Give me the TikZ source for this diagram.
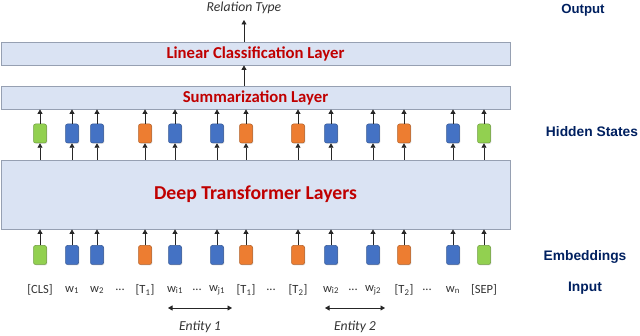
\documentclass[tikz,border=0pt]{standalone}
\usepackage{fontspec}
\setmainfont{Carlito}
\newfontfamily\sidefont{Liberation Sans}
\usetikzlibrary{arrows.meta,positioning,shadows}
\definecolor{layerfill}{RGB}{218,227,243}
\definecolor{layerdraw}{RGB}{150,160,178}
\definecolor{layerred}{RGB}{192,0,0}
\definecolor{sidenavy}{RGB}{0,32,96}
\definecolor{tokblue}{RGB}{68,114,196}
\definecolor{tokorange}{RGB}{237,125,49}
\definecolor{tokgreen}{RGB}{146,208,80}
\begin{document}
\begin{tikzpicture}[x=1pt,y=-1pt,
  layer/.style={draw=layerdraw,fill=layerfill,line width=0.8pt,minimum width=509pt,inner sep=0pt,
    text=layerred,font=\fontsize{16.7}{18}\selectfont\bfseries,
    drop shadow={shadow xshift=1.2pt,shadow yshift=-1.2pt,fill=black!30}},
  tok/.style={rounded corners=2pt,draw=#1!75!black,fill=#1,line width=0.5pt,minimum width=13pt,minimum height=19pt,inner sep=0pt,
    drop shadow={shadow xshift=0.8pt,shadow yshift=-0.8pt,fill=black!25}},
  tokin/.style={font=\fontsize{12.5}{14}\selectfont,text=black!80,inner sep=1pt},
  side/.style={font=\sidefont\fontsize{13.8}{16}\selectfont\bfseries,text=sidenavy},
  note/.style={font=\fontsize{13.7}{15}\selectfont\itshape,text=black!80},
  arr/.style={-{Triangle[length=4.5pt,width=5pt]},line width=0.7pt,black!85},
  twoarr/.style={{Triangle[length=4.5pt,width=5pt]}-{Triangle[length=4.5pt,width=5pt]},line width=0.7pt,black!85}]
\useasboundingbox (0,0) rectangle (640,336);
% the three layers
\node[layer,minimum height=23pt] (lin) at (255.5,53.5) {Linear Classification Layer};
\node[layer,minimum height=23pt] (summ) at (255.5,97.5) {Summarization Layer};
\node[layer,minimum height=69pt,font=\fontsize{19.7}{22}\selectfont\bfseries] (trans) at (255.5,194.5) {Deep Transformer Layers};
% output
\node[note] (rel) at (244,7.5) {Relation Type};
\coordinate (reltip) at (244,20);
\draw[arr] (lin.north -| reltip) -- (reltip);
\draw[arr] (summ.north -| reltip) -- (lin.south -| reltip);
% tokens: embeddings, hidden states and input words
\foreach \i/\x/\c/\t in {1/40/tokgreen/{[CLS]},2/72/tokblue/{w\textsubscript{1}},3/97/tokblue/{w\textsubscript{2}},
    4/145/tokorange/{[T\textsubscript{1}]},5/175/tokblue/{w\textsubscript{i1}},6/217/tokblue/{w\textsubscript{j1}},
    7/246/tokorange/{[T\textsubscript{1}]},8/298/tokorange/{[T\textsubscript{2}]},9/331/tokblue/{w\textsubscript{i2}},
    10/373/tokblue/{w\textsubscript{j2}},11/404/tokorange/{[T\textsubscript{2}]},12/453/tokblue/{w\textsubscript{n}},
    13/484/tokgreen/{[SEP]}}{
  \node[tok=\c] (emb\i) at (\x,255) {};
  \node[tok=\c] (hid\i) at (\x,133.5) {};
  \node[tokin] (in\i) at (\x,290) {\t};
  \draw[arr] (emb\i.north) -- (trans.south -| emb\i);
  \draw[arr] (trans.north -| hid\i) -- (hid\i.south);
  \draw[arr] (hid\i.north) -- (summ.south -| hid\i);
}
\foreach \x in {120,197,271,353,427}
  \node[tokin] (dots\x) at (\x,290) {...};
% entity spans
\coordinate (ent1a) at (168,308); \coordinate (ent1b) at (232,308);
\coordinate (ent2a) at (325,308); \coordinate (ent2b) at (385,308);
\draw[twoarr] (ent1a) -- (ent1b);
\draw[twoarr] (ent2a) -- (ent2b);
\node[note] (ent1) at (200,327) {Entity 1};
\node[note] (ent2) at (355,327) {Entity 2};
% labels on the right
\node[side,font=\sidefont\fontsize{13.2}{15}\selectfont\bfseries] (lout) at (583,10) {Output};
\node[side] (lhid) at (592,132) {Hidden States};
\node[side] (lemb) at (585,257) {Embeddings};
\node[side] (linp) at (585,288) {Input};
\end{tikzpicture}
\end{document}
